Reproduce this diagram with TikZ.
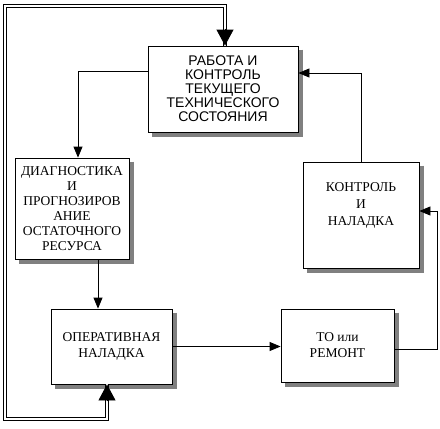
\documentclass[tikz,border=0pt]{standalone}
\usepackage{fontspec}
\setmainfont{Liberation Serif}
\newfontfamily\arialf{Liberation Sans}
\usetikzlibrary{arrows.meta,calc}
\begin{document}
\begin{tikzpicture}[x=1pt,y=-1pt,
  box/.style={draw=black, line width=0.8pt, fill=white, inner sep=0pt, align=center},
  txt/.style={inner sep=0pt, align=center},
  shadowline/.style={draw=black!50, line width=4pt},
  arr/.style={line width=0.8pt, -{Triangle[length=11pt,width=9pt]}},
  bigarr/.style={line width=0.8pt, -{Triangle[length=16pt,width=17pt]}}]
\useasboundingbox (0,0) rectangle (440,429);
% boxes
\node[box, minimum width=150pt, minimum height=86pt, font=\arialf\fontsize{14}{14}\selectfont] (b1) at (223,89)
  {РАБОТА И\\КОНТРОЛЬ\\ТЕКУЩЕГО\\ТЕХНИЧЕСКОГО\\СОСТОЯНИЯ};
\node[box, minimum width=114pt, minimum height=101pt, font=\fontsize{13.5}{15}\selectfont] (b2) at (72,208.5)
  {ДИАГНОСТИКА\\И\\ПРОГНОЗИРОВ\\АНИЕ\\ОСТАТОЧНОГО\\РЕСУРСА};
\node[box, minimum width=121pt, minimum height=75pt, font=\fontsize{13.5}{16}\selectfont] (b3) at (111.5,346.5)
  {ОПЕРАТИВНАЯ\\НАЛАДКА};
\node[box, minimum width=113pt, minimum height=73pt, font=\fontsize{13.5}{16}\selectfont] (b4) at (337.5,345.5)
  {ТО или\\РЕМОНТ};
\node[box, minimum width=116pt, minimum height=106pt] (b5) at (361,215) {};
\node[txt, font=\fontsize{13.5}{17}\selectfont] (b5t) at (361,205)
  {КОНТРОЛЬ\\И\\НАЛАДКА};
% shadows (right and bottom bands)
\draw[shadowline] ([shift={(2.4,4)}]b1.north east) -- ([shift={(2.4,2.4)}]b1.south east) -- ([shift={(4,2.4)}]b1.south west);
\draw[shadowline] ([shift={(2.4,4)}]b2.north east) -- ([shift={(2.4,2.4)}]b2.south east) -- ([shift={(4,2.4)}]b2.south west);
\draw[shadowline] ([shift={(2.4,4)}]b3.north east) -- ([shift={(2.4,2.4)}]b3.south east) -- ([shift={(4,2.4)}]b3.south west);
\draw[shadowline] ([shift={(2.4,4)}]b4.north east) -- ([shift={(2.4,2.4)}]b4.south east) -- ([shift={(4,2.4)}]b4.south west);
\draw[shadowline] ([shift={(2.4,4)}]b5.north east) -- ([shift={(2.4,2.4)}]b5.south east) -- ([shift={(4,2.4)}]b5.south west);
% helper coordinates
\coordinate (x78) at (78,0);
\coordinate (x98) at (98,0);
\coordinate (x437) at (437,0);
\coordinate (dl) at (5,6);
\coordinate (dr) at (225,6);
\coordinate (db) at (107,419);
\coordinate (dbl) at (5,419);
% connectors
\draw[arr] ([yshift=18pt]b1.west) -| (x78 |- b2.north);
\draw[arr] (b2.south -| x98) -- (b3.north -| x98);
\draw[arr] (b3.east) -- (b4.west |- b3.east);
\draw[arr] ([yshift=-4pt]b4.east) -| ([yshift=4pt]x437 |- b5.east) -- ([yshift=4pt]b5.east);
\draw[arr] (b5.north) |- ([yshift=16pt]b1.east);
% double feedback line
\draw[line width=4.4pt, black] (db |- b3.south) -- (db) -- (dbl) -- (dl) -- (dr) -- (dr |- b1.north);
\draw[line width=2.8pt, white] (db |- b3.south) -- (db) -- (dbl) -- (dl) -- (dr) -- (dr |- b1.north);
\draw[bigarr] ($(dr |- b1.north)+(0,-17)$) -- (dr |- b1.north);
\draw[bigarr] ($(db |- b3.south)+(0,17)$) -- (db |- b3.south);
\end{tikzpicture}
\end{document}
